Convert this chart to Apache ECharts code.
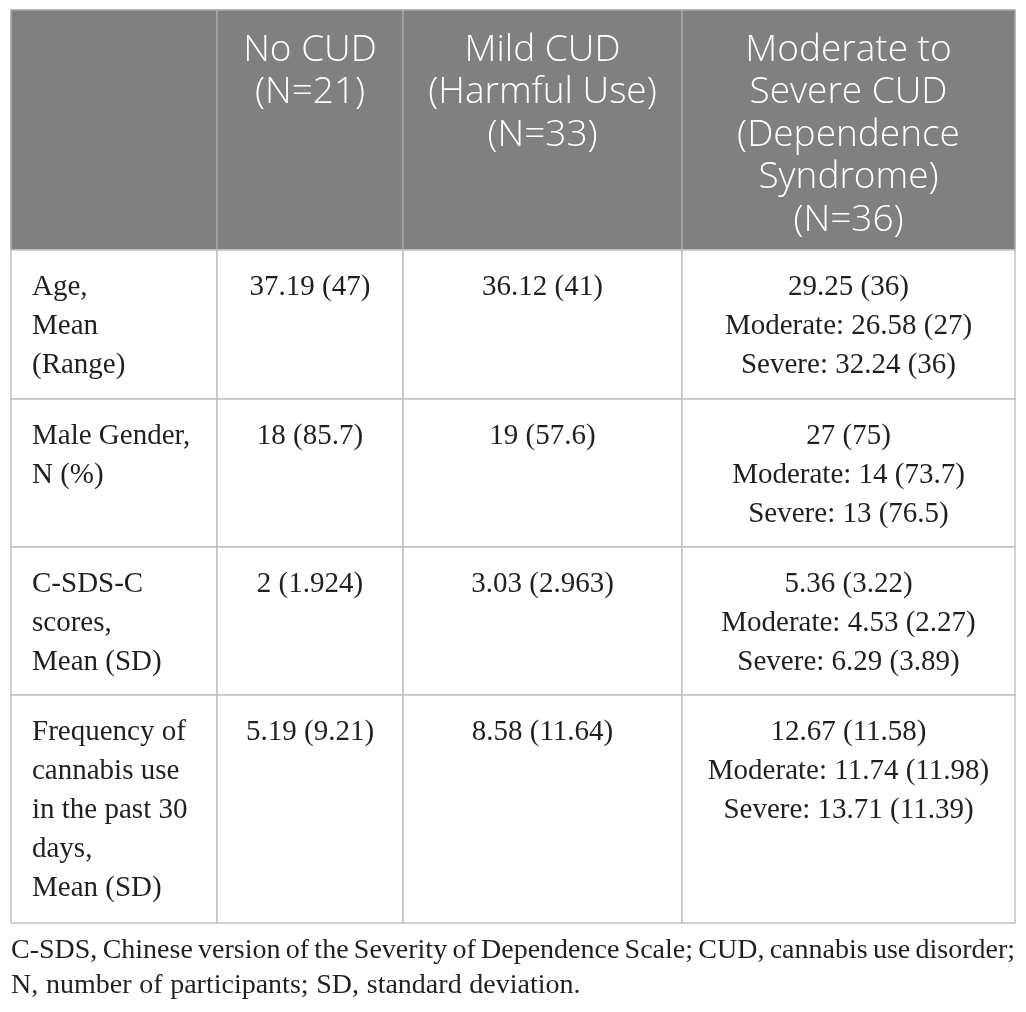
<!DOCTYPE html>
<html>
<head>
<meta charset="utf-8">
<script src="https://cdn.jsdelivr.net/npm/echarts@6/dist/echarts.min.js"></script>
<style>
  html, body { margin: 0; padding: 0; background: #fff; }
  #main { width: 1026px; height: 1012px; }
</style>
</head>
<body>
<div id="main"></div>
<script>
// table content
var columnHeaders = ['', 'No CUD\n(N=21)', 'Mild CUD\n(Harmful Use)\n(N=33)',
  'Moderate to\nSevere CUD\n(Dependence\nSyndrome)\n(N=36)']
var rowLabels = ['Age,\nMean\n(Range)', 'Male Gender,\nN (%)', 'C-SDS-C\nscores,\nMean (SD)',
  'Frequency of\ncannabis use\nin the past 30\ndays,\nMean (SD)']
var noCud = ['37.19 (47)', '18 (85.7)', '2 (1.924)', '5.19 (9.21)']
var mildCud = ['36.12 (41)', '19 (57.6)', '3.03 (2.963)', '8.58 (11.64)']
var modSevereCud = [
  '29.25 (36)\nModerate: 26.58 (27)\nSevere: 32.24 (36)',
  '27 (75)\nModerate: 14 (73.7)\nSevere: 13 (76.5)',
  '5.36 (3.22)\nModerate: 4.53 (2.27)\nSevere: 6.29 (3.89)',
  '12.67 (11.58)\nModerate: 11.74 (11.98)\nSevere: 13.71 (11.39)'
]
var footnote = [
  'C-SDS, Chinese version of the Severity of Dependence Scale; CUD, cannabis use disorder;',
  'N, number of participants; SD, standard deviation.'
]

// layout (pixel edges of the table grid)
var colEdges = [11, 217, 403, 682, 1015]
var rowEdges = [10, 250, 399, 547, 695, 923]

var columns = [rowLabels, noCud, mildCud, modSevereCud]
var cells = []
for (var c = 0; c < columns.length; c++) {
  cells.push([c, 0, columnHeaders[c]])
  for (var r = 0; r < rowLabels.length; r++) {
    cells.push([c, r + 1, columns[c][r]])
  }
}

function renderCell (params, api) {
  var c = api.value(0)
  var r = api.value(1)
  var text = cells[params.dataIndex][2]
  var p0 = api.coord([colEdges[c], rowEdges[r]])
  var p1 = api.coord([colEdges[c + 1], rowEdges[r + 1]])
  var header = r === 0
  var x = c === 0 ? p0[0] + 21 : (p0[0] + p1[0]) / 2
  return {
    type: 'group',
    children: [{
      type: 'rect',
      shape: { x: p0[0], y: p0[1], width: p1[0] - p0[0], height: p1[1] - p0[1] },
      style: { fill: header ? '#808080' : '#ffffff', stroke: header ? '#a6a6a6' : '#c2c2c2', lineWidth: 1.5 }
    }, {
      type: 'text',
      style: {
        text: text,
        x: x,
        y: p0[1] + (header ? 19 : 17.5),
        align: c === 0 ? 'left' : 'center',
        verticalAlign: 'top',
        fill: header ? '#ffffff' : '#231f20',
        font: header ? '300 37px "Open Sans"' : '29px "Liberation Serif"',
        lineHeight: header ? 42.5 : 39
      }
    }]
  }
}

// justified footnote words (last line left as is)
var noteFont = '28px "Liberation Serif"'
var ctx = document.createElement('canvas').getContext('2d')
ctx.font = noteFont
var noteWords = []
footnote.forEach(function (line, i) {
  var words = line.split(' ')
  var widths = words.map(function (w) { return ctx.measureText(w).width })
  var total = widths.reduce(function (a, b) { return a + b }, 0)
  var last = i === footnote.length - 1
  var gap = last ? ctx.measureText(' ').width * 1.1 : (1004 - total) / (words.length - 1)
  var x = 11
  words.forEach(function (w, k) {
    noteWords.push({
      type: 'text',
      x: x,
      y: 951 + i * 35,
      style: { text: w, font: noteFont, fill: '#231f20', verticalAlign: 'middle' }
    })
    x += widths[k] + gap
  })
})

var chart = echarts.init(document.getElementById('main'))
chart.setOption({
  backgroundColor: '#ffffff',
  animation: false,
  grid: { left: 0, right: 0, top: 0, bottom: 0 },
  xAxis: { type: 'value', min: 0, max: 1026, show: false },
  yAxis: { type: 'value', min: 0, max: 1012, inverse: true, show: false },
  graphic: noteWords,
  series: [{
    type: 'custom',
    renderItem: renderCell,
    data: cells.map(function (d) { return [d[0], d[1]] })
  }]
})
</script>
</body>
</html>
